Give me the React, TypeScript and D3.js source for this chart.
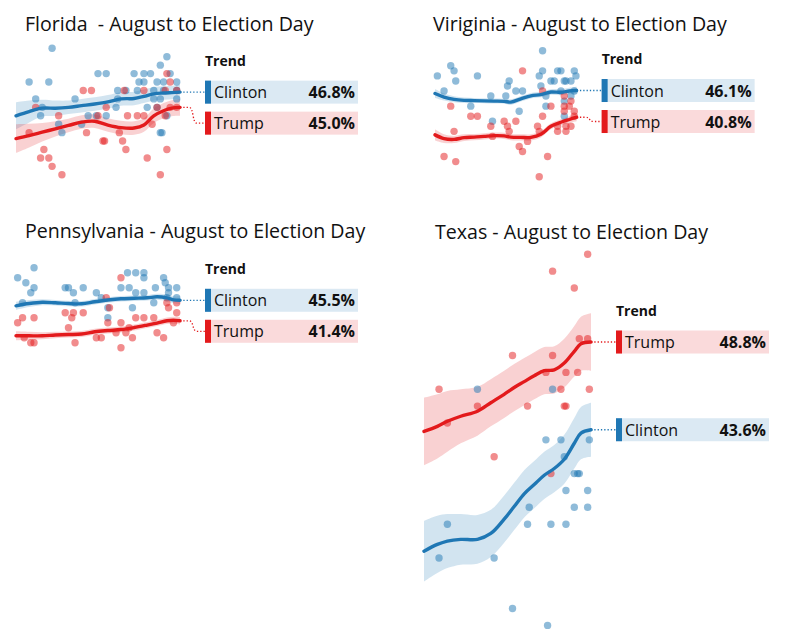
import * as d3 from 'd3';
import React from 'react';

const CLINTON = '#1f77b4';
const TRUMP = '#e31a1c';

type Poll = [number, number];

// ---- Florida ----
const flDays = [0, 8, 16, 24, 32, 40, 48, 56, 64, 72, 78, 84, 90, 95, 100];
const flClintonTrend = [44.0, 44.5, 44.9, 44.9, 45.0, 45.2, 45.4, 45.65, 46.0, 46.05, 46.3, 46.6, 46.7, 46.75, 46.8];
const flClintonBand = [1.6, 1.3, 1.0, 0.9, 0.8, 0.8, 0.8, 0.8, 0.8, 0.8, 0.8, 0.8, 0.8, 0.8, 0.9];
const flTrumpTrend = [41.3, 41.65, 42.05, 42.45, 42.85, 43.25, 43.35, 42.9, 42.6, 42.55, 42.9, 44.0, 44.6, 44.9, 45.0];
const flTrumpBand = [1.7, 1.4, 1.1, 0.9, 0.8, 0.8, 0.8, 0.8, 0.8, 0.8, 0.8, 0.85, 0.9, 0.95, 1.0];
const flClintonPolls: Poll[] = [
  [22, 52], [8, 48], [20, 48], [50, 49], [55, 49], [72, 49], [78, 49], [82, 49], [92, 51], [88, 50],
  [75, 48], [78, 48], [86, 48], [90, 48], [94, 49], [98, 48], [12, 46], [36, 46], [62, 47], [67, 47],
  [74, 47], [84, 47], [90, 47], [98, 47], [62, 46], [84, 46], [88, 46], [98, 46], [61, 45], [80, 45],
  [86, 45], [16, 45], [15, 44], [44, 44], [49, 44], [55, 44], [92, 44], [26, 43], [40, 43], [28, 42],
  [88, 42], [89, 42],
];
const flTrumpPolls: Poll[] = [
  [41, 47], [46, 47], [92, 49], [94, 48], [91, 47], [98, 47], [66, 47], [78, 47], [12, 45], [55, 45],
  [86, 45], [94, 45], [98, 45], [26, 44], [68, 44], [74, 44], [78, 44], [50, 44], [91, 44], [8, 42],
  [43, 42], [63, 42], [53, 41], [54, 41], [65, 41], [17, 40], [67, 40], [92, 40], [15, 39], [20, 39],
  [80, 39], [22, 38], [28, 37], [88, 37], [83, 43],
];

// ---- Virginia ----
const vaDays = [6.6, 12, 18, 24, 30, 36, 42, 48, 52, 58, 64, 70, 76, 82, 87, 91.4];
const vaClintonTrend = [45.5, 44.8, 44.35, 44.15, 44.1, 44.05, 44.0, 43.95, 43.8, 44.45, 45.05, 45.3, 45.8, 45.75, 46.0, 46.1];
const vaClintonBand = [0.9, 0.7, 0.6, 0.55, 0.5, 0.5, 0.5, 0.5, 0.55, 0.55, 0.55, 0.55, 0.55, 0.6, 0.65, 0.75];
const vaTrumpTrend = [37.3, 36.55, 36.4, 36.75, 36.85, 37.0, 37.15, 37.1, 36.85, 36.8, 36.8, 37.4, 39.0, 39.8, 40.35, 40.8];
const vaTrumpBand = [1.1, 0.85, 0.7, 0.65, 0.6, 0.6, 0.6, 0.6, 0.6, 0.6, 0.6, 0.6, 0.6, 0.6, 0.65, 0.8];
const vaClintonPolls: Poll[] = [
  [8, 49], [16, 51], [18, 50], [19, 48], [12, 46], [28, 43], [32, 49], [40, 45], [41, 40], [50, 47],
  [51, 48], [49, 45], [55, 46], [59, 46], [57, 42], [71, 54], [69, 49], [71, 50], [70, 47], [73, 45],
  [73, 43], [76, 48], [78, 48], [80, 50], [82, 50], [84, 48], [85, 48], [90, 50], [91, 49], [88, 48],
  [90, 46], [82, 46], [84, 44], [84, 41], [88, 45],
];
const vaTrumpPolls: Poll[] = [
  [16, 43], [18, 38], [12, 33], [19, 32], [28, 41], [32, 41], [40, 39], [41, 37], [48, 40], [50, 39],
  [51, 38], [55, 40], [57, 35], [59, 34], [62, 36], [59, 50], [71, 46], [71, 41], [68, 39], [69, 38],
  [74, 33], [69, 29], [76, 43], [80, 39], [80, 38], [84, 43], [84, 42], [85, 39], [85, 38], [87, 43],
  [88, 44], [90, 42], [90, 41], [84, 45], [88, 39],
];

// ---- Pennsylvania ----
const paDays = [0, 8, 16, 24, 32, 40, 48, 56, 64, 72, 80, 86, 92, 96, 100];
const paClintonTrend = [44.4, 44.85, 45.1, 45.0, 44.85, 44.8, 45.2, 45.55, 45.8, 45.9, 46.0, 46.2, 46.0, 45.6, 45.5];
const paClintonBand = [0.8, 0.7, 0.6, 0.55, 0.55, 0.55, 0.55, 0.55, 0.55, 0.55, 0.55, 0.6, 0.65, 0.7, 0.8];
const paTrumpTrend = [38.4, 38.4, 38.4, 38.55, 38.65, 38.75, 39.2, 39.45, 39.65, 40.05, 40.55, 40.95, 41.4, 41.5, 41.4];
const paTrumpBand = [0.9, 0.8, 0.7, 0.65, 0.6, 0.6, 0.6, 0.6, 0.6, 0.6, 0.6, 0.6, 0.65, 0.7, 0.75];
const paClintonPolls: Poll[] = [
  [11, 52], [1, 50], [6, 49], [11, 48], [9, 47], [30, 48], [32, 48], [35, 47], [41, 48], [49, 47],
  [52, 46], [56, 44], [56, 42], [64, 48], [68, 51], [73, 51], [78, 51], [78, 50], [69, 48], [73, 47],
  [78, 47], [71, 44], [84, 45], [85, 48], [90, 50], [91, 49], [93, 48], [98, 48], [93, 47], [4, 45],
  [36, 45], [98, 46], [92, 46],
];
const paTrumpPolls: Poll[] = [
  [1, 41], [4, 42], [11, 42], [30, 43], [35, 43], [41, 43], [32, 40], [34, 42], [36, 37], [49, 38],
  [52, 38], [56, 41], [64, 41], [64, 36], [73, 42], [78, 42], [84, 42], [86, 39], [90, 38], [96, 41],
  [98, 43], [93, 44], [92, 45], [64, 50], [55, 46], [57, 44], [5, 38], [9, 37], [11, 37], [67, 39],
  [71, 38], [61, 39], [69, 40], [98, 45],
];

// ---- Texas ----
const txDays = [0, 8, 14, 22, 32, 40, 48, 54, 60, 66, 72, 78, 84, 90, 94, 100];
const txTrumpTrend = [43.5, 43.8, 44.1, 44.4, 44.7, 45.2, 45.7, 46.1, 46.45, 46.8, 47.1, 47.15, 47.55, 48.25, 48.7, 48.8];
const txTrumpBand = [2.0, 1.9, 1.8, 1.6, 1.45, 1.4, 1.4, 1.4, 1.4, 1.4, 1.4, 1.4, 1.45, 1.5, 1.6, 1.7];
const txClintonTrend = [36.4, 36.8, 37.0, 37.1, 37.1, 37.45, 38.3, 39.05, 39.8, 40.35, 40.9, 41.3, 41.85, 42.8, 43.4, 43.6];
const txClintonBand = [1.8, 1.7, 1.6, 1.5, 1.45, 1.4, 1.4, 1.4, 1.4, 1.4, 1.4, 1.4, 1.45, 1.5, 1.55, 1.6];
const txTrumpPolls: Poll[] = [
  [98, 54], [77, 53], [90, 52], [93, 49], [98, 49], [53, 48], [77, 48], [73, 47], [85, 47], [92, 47],
  [9, 46], [82, 46], [99, 46], [32, 45], [62, 45], [84, 45], [85, 45], [14, 44], [42, 42], [76, 41],
];
const txClintonPolls: Poll[] = [
  [32, 46], [77, 46], [73, 43], [82, 43], [99, 43], [84, 42], [90, 41], [92, 41], [93, 41], [85, 40],
  [98, 40], [63, 39], [90, 39], [98, 39], [14, 38], [62, 38], [76, 38], [85, 38], [9, 36], [42, 36],
  [53, 33], [74, 32],
];

interface Series {
  name: string;
  color: string;
  trend: number[];
  band: number[];
  polls: Poll[];
}

interface Panel {
  title: string;
  titleX: number;
  titleY: number;
  x0: number;
  x1: number;
  yTop: number;
  yBottom: number;
  days: number[];
  series: Series[];
}

const panels: Panel[] = [
  {
    title: 'Florida  - August to Election Day', titleX: 25, titleY: 31,
    x0: 16, x1: 180, yTop: 48.3, yBottom: 174.8, days: flDays,
    series: [
      { name: 'Clinton', color: CLINTON, trend: flClintonTrend, band: flClintonBand, polls: flClintonPolls },
      { name: 'Trump', color: TRUMP, trend: flTrumpTrend, band: flTrumpBand, polls: flTrumpPolls },
    ],
  },
  {
    title: 'Viriginia - August to Election Day', titleX: 433, titleY: 31,
    x0: 424, x1: 591, yTop: 50.7, yBottom: 176.7, days: vaDays,
    series: [
      { name: 'Clinton', color: CLINTON, trend: vaClintonTrend, band: vaClintonBand, polls: vaClintonPolls },
      { name: 'Trump', color: TRUMP, trend: vaTrumpTrend, band: vaTrumpBand, polls: vaTrumpPolls },
    ],
  },
  {
    title: 'Pennsylvania - August to Election Day', titleX: 25, titleY: 238,
    x0: 16, x1: 180, yTop: 267.8, yBottom: 347.8, days: paDays,
    series: [
      { name: 'Clinton', color: CLINTON, trend: paClintonTrend, band: paClintonBand, polls: paClintonPolls },
      { name: 'Trump', color: TRUMP, trend: paTrumpTrend, band: paTrumpBand, polls: paTrumpPolls },
    ],
  },
  {
    title: 'Texas - August to Election Day', titleX: 435, titleY: 239,
    x0: 424, x1: 591, yTop: 254.3, yBottom: 625.4, days: txDays,
    series: [
      { name: 'Clinton', color: CLINTON, trend: txClintonTrend, band: txClintonBand, polls: txClintonPolls },
      { name: 'Trump', color: TRUMP, trend: txTrumpTrend, band: txTrumpBand, polls: txTrumpPolls },
    ],
  },
];

const FONT = "'Open Sans', 'Noto Sans', sans-serif";
const fmt = d3.format('.1f');

function StatePanel({ p }: { p: Panel }) {
  const x = d3.scaleLinear().domain([0, 100]).range([p.x0, p.x1]);
  const vals = p.series.flatMap((s) => s.polls.map((d) => d[1]));
  const [lo, hi] = d3.extent(vals) as [number, number];
  const y = d3.scaleLinear().domain([lo, hi]).range([p.yBottom, p.yTop]);

  const endX = x(p.days[p.days.length - 1]);
  const boxX = endX + 25;
  const boxW = 153;
  const boxH = 23;

  // labels sit at the line's end, pushed down when they would overlap
  const ends = p.series
    .map((s) => ({ s, y: y(s.trend[s.trend.length - 1]), ly: 0 }))
    .sort((a, b) => a.y - b.y);
  let prev = -Infinity;
  ends.forEach((e) => {
    e.ly = Math.max(e.y, prev + 31);
    prev = e.ly;
  });

  return (
    <g>
      <text x={p.titleX} y={p.titleY} fontSize={19.6} fill="#111" style={{ whiteSpace: 'pre' }}>
        {p.title}
      </text>
      {p.series.map((s) => {
        const area = d3
          .area<number>()
          .x((_, i) => x(p.days[i]))
          .y0((v, i) => y(v - s.band[i]))
          .y1((v, i) => y(v + s.band[i]))
          .curve(d3.curveCatmullRom);
        return <path key={s.name + 'band'} d={area(s.trend) ?? ''} fill={s.color} opacity={0.2} />;
      })}
      {p.series.map((s) => (
        <g key={s.name + 'polls'}>
          {s.polls.map((d, i) => (
            <circle key={i} cx={x(d[0])} cy={y(d[1])} r={3.7} fill={s.color} opacity={0.5} />
          ))}
        </g>
      ))}
      {p.series.map((s) => {
        const line = d3
          .line<number>()
          .x((_, i) => x(p.days[i]))
          .y((v) => y(v))
          .curve(d3.curveCatmullRom);
        return (
          <path key={s.name + 'line'} d={line(s.trend) ?? ''} fill="none" stroke={s.color} strokeWidth={3.4} strokeLinecap="round" />
        );
      })}
      <text x={boxX} y={ends[0].ly - boxH / 2 - 15} fontSize={14} fontWeight="bold" fill="#111">
        Trend
      </text>
      {ends.map((e) => {
        const link =
          Math.abs(e.ly - e.y) < 0.5
            ? `M${endX},${e.y}H${boxX}`
            : `M${endX},${e.y}H${endX + 9}C${endX + 14},${e.y} ${endX + 12},${e.ly} ${endX + 17},${e.ly}H${boxX}`;
        return (
          <g key={e.s.name + 'legend'}>
            <path d={link} fill="none" stroke={e.s.color} strokeWidth={1.3} strokeDasharray="1.3,2" />
            <rect x={boxX} y={e.ly - boxH / 2} width={boxW} height={boxH} fill={e.s.color} opacity={0.16} />
            <rect x={boxX} y={e.ly - boxH / 2} width={6} height={boxH} fill={e.s.color} />
            <text x={boxX + 9} y={e.ly + 6} fontSize={16} fill="#111">
              {e.s.name}
            </text>
            <text x={boxX + 150} y={e.ly + 6} fontSize={16} fontWeight="bold" textAnchor="end" fill="#111">
              {fmt(e.s.trend[e.s.trend.length - 1])}%
            </text>
          </g>
        );
      })}
    </g>
  );
}

export default function App() {
  return (
    <svg
      width={786}
      height={630}
      style={{ position: 'absolute', left: 0, top: 0, fontFamily: FONT, background: '#fff' }}
    >
      {panels.map((p) => (
        <StatePanel key={p.title} p={p} />
      ))}
    </svg>
  );
}
